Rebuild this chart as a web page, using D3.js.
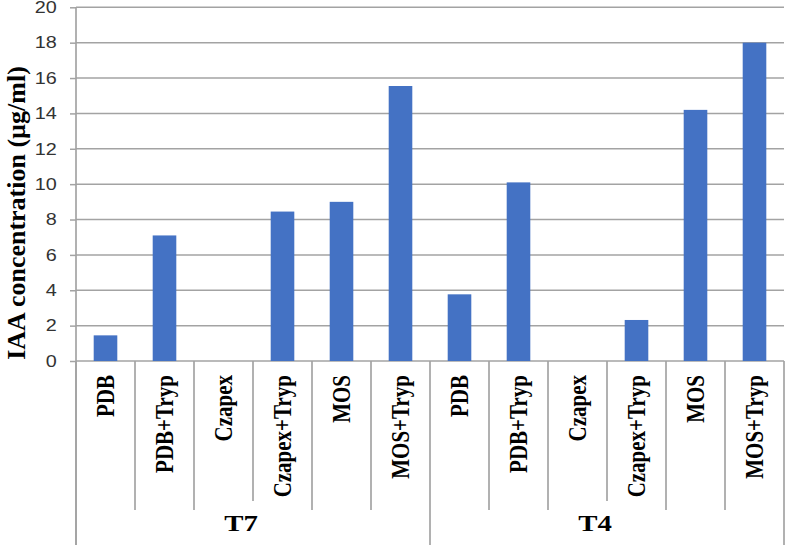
<!DOCTYPE html>
<html>
<head>
<meta charset="utf-8">
<script src="https://cdn.jsdelivr.net/npm/d3@7"></script>
<style>
  html, body { margin: 0; padding: 0; background: #fff; }
  svg { display: block; }
</style>
</head>
<body>
<svg id="chart" width="786" height="545"></svg>
<script>
// ---- data ----
const groups = ["T7", "T4"];
const media = ["PDB", "PDB+Tryp", "Czapex", "Czapex+Tryp", "MOS", "MOS+Tryp"];
const valuesT7 = [1.45, 7.1, 0, 8.45, 9.0, 15.55];
const valuesT4 = [3.77, 10.1, 0, 2.32, 14.2, 18.0];
const yTicks = [0, 2, 4, 6, 8, 10, 12, 14, 16, 18, 20];
const yTitle = "IAA concentration (µg/ml)";

// ---- layout ----
const SX = 1.2;                 // horizontal stretch of the drawing
const H = 545;
const x0 = 76 / SX, x1 = 784 / SX;
const yTop = 7.3, yBase = 361;

const rows = [];
[valuesT7, valuesT4].forEach((vals, gi) => {
  media.forEach((m, mi) => rows.push({ id: gi + "_" + mi, group: groups[gi], gi, mi, label: m, value: vals[mi] }));
});

const svg = d3.select("#chart");
const root = svg.append("g").attr("transform", `scale(${SX},1)`);

const x = d3.scaleBand().domain(rows.map(d => d.id)).range([x0, x1]).paddingInner(0.6).paddingOuter(0.3);
const step = x.step();
const y = d3.scaleLinear().domain([0, 20]).range([yBase, yTop]);

const gridColor = "#a3a3a3";

// gridlines
root.append("g").selectAll("line").data(yTicks).join("line")
  .attr("x1", x0).attr("x2", x1)
  .attr("y1", d => y(d)).attr("y2", d => y(d))
  .attr("stroke", gridColor).attr("stroke-width", 1.5);

// y axis
const yAxis = d3.axisLeft(y).tickValues(yTicks).tickSize(5).tickPadding(11).tickFormat(d3.format("d"));
const ga = root.append("g").attr("transform", `translate(${x0},0)`).call(yAxis);
ga.select(".domain").remove();
ga.selectAll(".tick line").attr("stroke", gridColor).attr("stroke-width", 1.5);
ga.selectAll(".tick text")
  .attr("font-family", "'Liberation Sans', Arial, sans-serif")
  .attr("font-size", 16.5).attr("fill", "#333");

// bars
root.append("g").selectAll("rect").data(rows).join("rect")
  .attr("x", d => x(d.id))
  .attr("width", x.bandwidth())
  .attr("y", d => y(d.value))
  .attr("height", d => y(0) - y(d.value))
  .attr("fill", "#4472C4");

// vertical axis line
root.append("line")
  .attr("x1", x0).attr("x2", x0).attr("y1", yTop).attr("y2", H)
  .attr("stroke", gridColor).attr("stroke-width", 1.4);

// category separators
const seps = d3.range(0, rows.length + 1);
root.append("g").selectAll("line").data(seps).join("line")
  .attr("x1", i => x0 + i * step).attr("x2", i => x0 + i * step)
  .attr("y1", yBase)
  .attr("y2", i => (i % media.length === 0) ? H : ((i % media.length === 3) ? 501 : 510))
  .attr("stroke", gridColor).attr("stroke-width", 1.4);

// category labels
root.append("g").selectAll("text").data(rows).join("text")
  .attr("transform", d => `translate(${x(d.id) + x.bandwidth() / 2 + 7},375) rotate(-90)`)
  .attr("text-anchor", "end")
  .attr("font-family", "'Liberation Serif', 'Times New Roman', serif")
  .attr("font-weight", "bold")
  .attr("font-size", 21)
  .attr("fill", "#000")
  .text(d => d.label);

// group labels
root.append("g").selectAll("text").data(groups).join("text")
  .attr("x", (g, gi) => x0 + (gi * media.length + media.length / 2) * step - 10)
  .attr("y", 531)
  .attr("text-anchor", "middle")
  .attr("font-family", "'Liberation Serif', 'Times New Roman', serif")
  .attr("font-weight", "bold")
  .attr("font-size", 24)
  .attr("fill", "#000")
  .text(d => d);

// y title (unstretched so it stays inside the frame)
svg.append("text")
  .attr("transform", `translate(25,213) rotate(-90)`)
  .attr("text-anchor", "middle")
  .attr("font-family", "'Liberation Serif', 'Times New Roman', serif")
  .attr("font-weight", "bold")
  .attr("font-size", 26)
  .attr("fill", "#000")
  .text(yTitle);
</script>
</body>
</html>
